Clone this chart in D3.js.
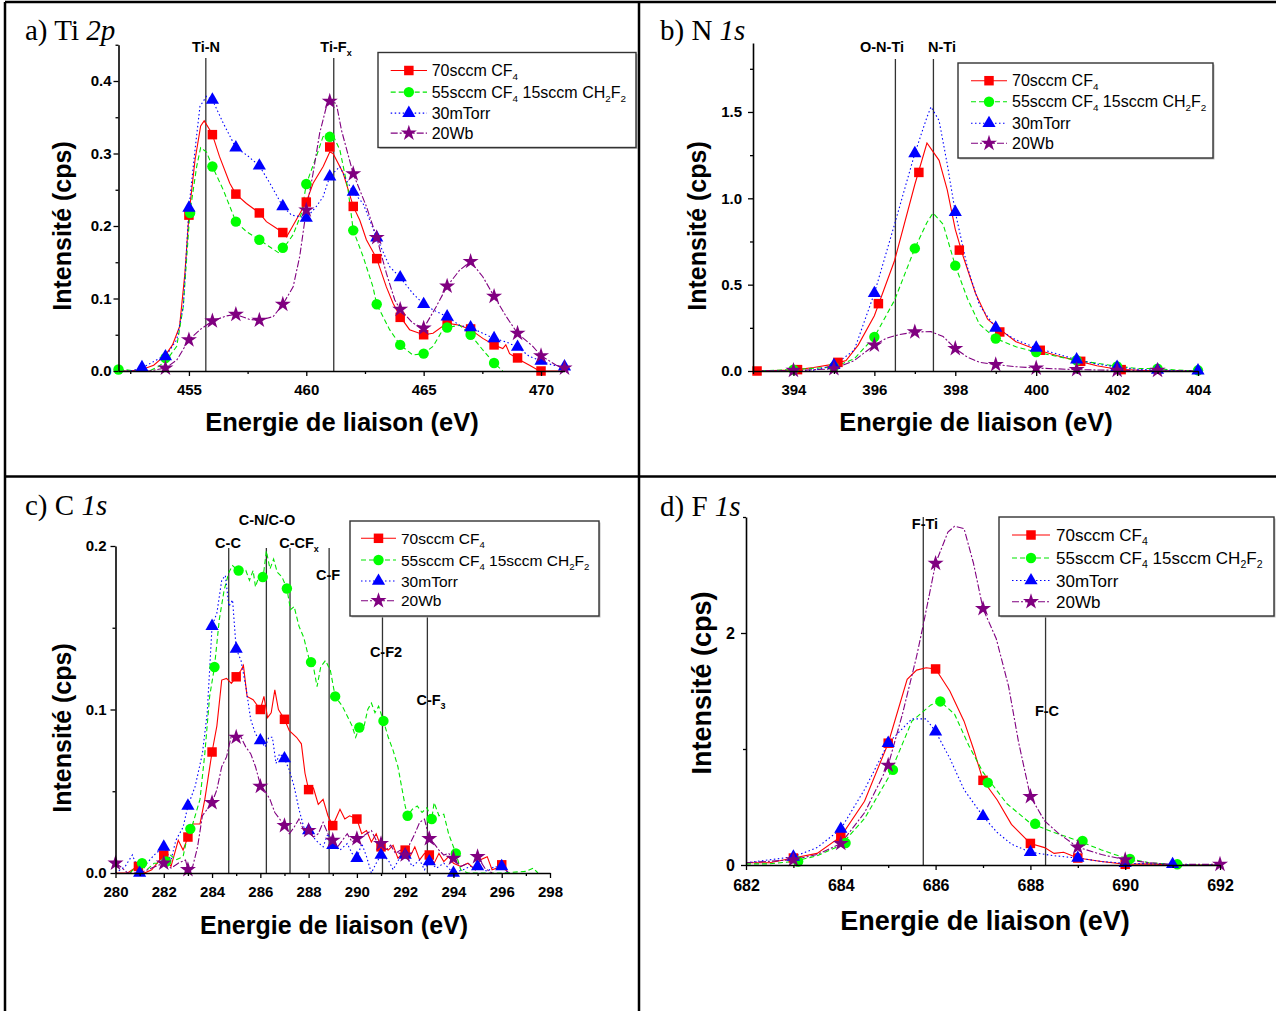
<!DOCTYPE html>
<html><head><meta charset="utf-8">
<script src="https://cdn.jsdelivr.net/npm/d3@7"></script>
<style>
body{margin:0;background:#fff;}
svg{display:block;font-family:"Liberation Sans",Arial,sans-serif;}
</style></head><body>
<svg id="chart" width="1276" height="1011"></svg>
<script>
// ---------------- DATA ----------------
const seriesNames = ["70sccm CF_4", "55sccm CF_4 15sccm CH_2F_2", "30mTorr", "20Wb"];

// a) Ti 2p
const tiRed = [[452,0],[452.5,0],[453,0.002],[453.5,0.008],[454,0.022],[454.3,0.036],[454.6,0.061],[454.83,0.135],[455,0.215],[455.26,0.291],[455.5,0.338],[455.65,0.345],[455.9,0.332],[456,0.326],[456.3,0.296],[456.74,0.259],[457,0.244],[457.45,0.231],[458,0.218],[458.3,0.206],[458.73,0.197],[459,0.191],[459.16,0.185],[459.37,0.197],[459.72,0.217],[460,0.233],[460.29,0.259],[460.72,0.282],[461,0.302],[461.14,0.3],[461.57,0.273],[462,0.227],[462.28,0.208],[462.56,0.181],[463,0.155],[463.41,0.116],[463.7,0.093],[464,0.075],[464.4,0.057],[465,0.05],[465.4,0.052],[466,0.066],[466.53,0.063],[467,0.057],[467.52,0.045],[468,0.036],[468.37,0.031],[468.5,0.036],[468.66,0.024],[469,0.017],[469.51,0.008],[469.94,0],[470.5,0],[471,0]];
const tiRedMk = [[455,0.215],[456,0.326],[457,0.244],[458,0.218],[459,0.191],[460,0.233],[461,0.309],[462,0.227],[463,0.155],[464,0.074],[465,0.05],[466,0.066],[467,0.058],[468,0.036],[469,0.018],[470,0]];
const tiGreen = [[452,0.002],[452.3,0.002],[452.7,0],[453.3,0],[453.7,0.006],[454.05,0.015],[454.48,0.034],[454.76,0.089],[455.04,0.218],[455.33,0.282],[455.5,0.308],[455.75,0.302],[456,0.282],[456.46,0.25],[457,0.206],[457.46,0.192],[458,0.181],[458.45,0.171],[458.87,0.162],[459,0.168],[459.44,0.188],[459.8,0.218],[460,0.258],[460.43,0.296],[460.71,0.323],[461,0.328],[461.14,0.325],[461.43,0.305],[461.78,0.25],[462,0.194],[462.42,0.158],[462.84,0.116],[463,0.092],[463.55,0.057],[464,0.036],[464.54,0.022],[465,0.024],[465.4,0.034],[465.82,0.057],[466,0.06],[466.53,0.063],[467,0.05],[467.52,0.029],[468,0.011],[468.37,0]];
const tiGreenMk = [[452,0.002],[454,0.018],[455.05,0.218],[456,0.282],[457,0.206],[458,0.181],[459,0.17],[460,0.258],[461,0.323],[462,0.194],[463,0.092],[464,0.036],[465,0.024],[466,0.06],[467,0.05],[468,0.011]];
const tiBlue = [[452,0],[452.5,0],[453,0.004],[453.77,0.018],[454,0.02],[454.48,0.043],[454.76,0.089],[455,0.225],[455.26,0.305],[455.47,0.365],[455.75,0.379],[456,0.374],[456.46,0.342],[457,0.308],[457.46,0.298],[458,0.283],[458.45,0.259],[459,0.227],[459.37,0.215],[459.72,0.213],[460,0.211],[460.43,0.227],[460.71,0.24],[461,0.268],[461.43,0.282],[461.71,0.263],[462,0.247],[462.42,0.231],[463,0.184],[463.55,0.144],[464,0.129],[464.54,0.107],[465,0.092],[465.54,0.082],[466,0.075],[466.53,0.063],[467,0.06],[467.52,0.052],[468,0.045],[468.52,0.04],[469,0.033],[469.51,0.02],[470,0.014],[470.5,0.008],[471,0.006]];
const tiBlueMk = [[453,0.005],[454,0.02],[455,0.225],[456,0.374],[457,0.308],[458,0.283],[459,0.227],[460,0.211],[461,0.268],[462,0.247],[463,0.184],[464,0.129],[465,0.092],[466,0.075],[467,0.06],[468,0.045],[469,0.033],[470,0.014],[471,0.006]];
const tiPurple = [[452,0],[453.3,0],[454,0.004],[454.48,0.015],[455,0.043],[455.47,0.057],[456,0.069],[456.6,0.076],[457,0.078],[457.6,0.071],[458,0.07],[458.59,0.075],[459,0.092],[459.44,0.116],[459.72,0.158],[460,0.222],[460.29,0.273],[460.57,0.328],[460.86,0.365],[461,0.372],[461.28,0.369],[461.5,0.332],[462,0.272],[462.56,0.227],[463,0.184],[463.41,0.135],[463.77,0.098],[464,0.085],[464.54,0.066],[465,0.059],[465.54,0.089],[466,0.117],[466.53,0.139],[467,0.151],[467.52,0.13],[468,0.103],[468.52,0.075],[469,0.052],[469.65,0.034],[470,0.021],[470.65,0.008],[471,0.004]];
const tiPurpleMk = [[454,0.004],[455,0.043],[456,0.069],[457,0.078],[458,0.07],[459,0.092],[460,0.222],[461,0.372],[462,0.272],[463,0.184],[464,0.085],[465,0.059],[466,0.117],[467,0.151],[468,0.103],[469,0.052],[470,0.021],[471,0.004]];
const tiXTicks = [455,460,465,470];
const tiXMinor = [452.5,457.5,462.5,467.5];
const tiYTicks = [0,0.1,0.2,0.3,0.4];
const tiYMinor = [0.05,0.15,0.25,0.35,0.45];
const tiRefE = [455.72,461.17];
const tiRefLabels = ["Ti-N","Ti-F_x"];

// b) N 1s
const nRed = [[393,0],[394,0.005],[394.5,0.02],[395,0.04],[395.3,0.06],[395.6,0.15],[396,0.32],[396.5,0.64],[397,1.08],[397.3,1.32],[397.6,1.22],[397.8,1.05],[398,0.82],[398.2,0.66],[398.5,0.45],[398.8,0.3],[399,0.26],[399.5,0.17],[400,0.125],[400.5,0.09],[401,0.06],[401.5,0.03],[402,0.01],[403,0],[404,0]];
const nRedMk = [[393.1,0],[394.1,0.008],[395.1,0.05],[396.1,0.39],[397.1,1.15],[398.1,0.70],[399.1,0.226],[400.1,0.12],[401.1,0.056],[402.1,0.008]];
const nGreen = [[393,0],[394,0.008],[395,0.023],[395.5,0.07],[396,0.197],[396.5,0.41],[397,0.71],[397.3,0.86],[397.45,0.915],[397.7,0.85],[398,0.61],[398.3,0.42],[398.6,0.27],[399,0.188],[399.5,0.14],[400,0.11],[400.5,0.085],[401,0.062],[401.5,0.045],[402,0.027],[402.5,0.015],[403,0.013],[403.5,0.005],[404,0]];
const nGreenMk = [[394,0.008],[395,0.023],[396,0.197],[397,0.71],[398,0.61],[399,0.188],[400,0.11],[401,0.062],[402,0.027],[403,0.013],[404,0.004]];
const nBlue = [[393,0],[394,0],[394.5,0.005],[395,0.033],[395.5,0.12],[396,0.45],[396.5,0.85],[397,1.26],[397.3,1.47],[397.4,1.53],[397.6,1.45],[397.8,1.2],[398,0.92],[398.3,0.6],[398.6,0.38],[399,0.25],[399.5,0.18],[400,0.134],[400.5,0.1],[401,0.066],[401.5,0.04],[402,0.023],[402.5,0.01],[403,0.005],[404,0]];
const nBlueMk = [[395,0.033],[396,0.45],[397,1.26],[398,0.92],[399,0.25],[400,0.134],[401,0.066],[402,0.023],[403,0.006],[404,0.002]];
const nPurple = [[393,0],[394,0.002],[395,0.013],[395.5,0.06],[396,0.15],[396.3,0.19],[396.6,0.21],[397,0.226],[397.4,0.228],[397.7,0.2],[398,0.13],[398.3,0.08],[398.6,0.05],[399,0.037],[399.5,0.025],[400,0.017],[401,0.008],[402,0.004],[403,0.002],[404,0]];
const nPurpleMk = [[394,0.003],[395,0.013],[396,0.15],[397,0.226],[398,0.13],[399,0.037],[400,0.017],[401,0.008],[402,0.004],[403,0.003]];
const nXTicks = [394,396,398,400,402,404];
const nXMinor = [393,395,397,399,401,403];
const nYTicks = [0,0.5,1,1.5];
const nYMinor = [0.25,0.75,1.25,1.75];
const nRefE = [396.52,397.46];
const nRefLabels = ["O-N-Ti","N-Ti"];

// c) C 1s
const cRed = [[280,0],[280.5,0],[280.9,0.004],[281.2,0],[281.5,0.002],[282,0.011],[282.3,0.004],[282.6,0.02],[282.8,0.014],[283,0.022],[283.2,0.03],[283.5,0.03],[283.7,0.045],[284,0.074],[284.2,0.09],[284.4,0.118],[284.6,0.119],[284.8,0.116],[285,0.12],[285.2,0.124],[285.3,0.127],[285.45,0.108],[285.7,0.106],[285.9,0.102],[286,0.1],[286.15,0.108],[286.3,0.095],[286.45,0.098],[286.6,0.112],[286.75,0.1],[287,0.094],[287.2,0.087],[287.5,0.083],[287.7,0.079],[287.85,0.061],[288,0.051],[288.2,0.052],[288.4,0.042],[288.6,0.045],[288.8,0.035],[289,0.029],[289.3,0.039],[289.5,0.033],[289.7,0.035],[290,0.033],[290.2,0.024],[290.4,0.026],[290.6,0.019],[290.8,0.024],[291,0.016],[291.3,0.014],[291.5,0.017],[291.7,0.009],[292,0.014],[292.2,0.01],[292.4,0.016],[292.6,0.008],[292.8,0.012],[293,0.011],[293.2,0.006],[293.4,0.012],[293.6,0.007],[293.8,0.01],[294,0.006],[294.3,0.004],[294.6,0.006],[294.9,0.002],[295.1,0.008],[295.4,0.01],[295.6,0.002],[296,0.004],[296.3,0]];
const cRedMk = [[280.95,0.004],[282,0.011],[283,0.022],[284,0.074],[285,0.12],[286,0.1],[287,0.094],[288,0.051],[289,0.029],[290,0.033],[291,0.016],[292,0.014],[293,0.011],[296,0.005]];
const cGreen = [[280.6,0],[281,0.006],[281.3,0.002],[281.6,0.006],[282,0.006],[282.2,0.012],[282.5,0.008],[282.8,0.01],[283,0.024],[283.2,0.03],[283.5,0.045],[283.7,0.073],[283.9,0.108],[284.1,0.126],[284.3,0.155],[284.5,0.173],[284.7,0.184],[284.85,0.188],[285,0.186],[285.2,0.184],[285.4,0.185],[285.55,0.179],[285.7,0.185],[285.8,0.175],[285.95,0.182],[286.1,0.179],[286.25,0.197],[286.4,0.186],[286.55,0.192],[286.7,0.184],[286.9,0.181],[287.1,0.174],[287.25,0.161],[287.4,0.163],[287.6,0.151],[287.8,0.144],[288,0.132],[288.2,0.126],[288.35,0.114],[288.5,0.126],[288.7,0.13],[288.9,0.124],[289.1,0.108],[289.4,0.102],[289.6,0.096],[289.8,0.09],[289.95,0.083],[290.1,0.089],[290.3,0.09],[290.45,0.1],[290.6,0.104],[290.75,0.098],[290.9,0.102],[291.1,0.093],[291.3,0.083],[291.5,0.075],[291.7,0.065],[291.85,0.053],[292,0.041],[292.1,0.035],[292.3,0.039],[292.5,0.041],[292.7,0.037],[292.9,0.04],[293.1,0.033],[293.2,0.043],[293.4,0.035],[293.6,0.036],[293.8,0.024],[294.1,0.012],[294.3,0.002],[294.6,0],[296,0],[297,0.001],[297.3,0.003],[297.5,0]];
const cGreenMk = [[281.1,0.006],[282.1,0.007],[283.1,0.027],[284.1,0.126],[285.1,0.185],[286.1,0.181],[287.1,0.174],[288.1,0.129],[289.1,0.108],[290.1,0.089],[291.1,0.093],[292.1,0.035],[293.1,0.033],[294.1,0.012]];
const cBlue = [[280,0],[280.4,0.004],[280.7,0.011],[281,0],[281.3,0.006],[281.6,0.011],[282,0.016],[282.3,0.008],[282.5,0.02],[282.8,0.028],[283,0.041],[283.3,0.053],[283.6,0.073],[283.8,0.098],[284,0.151],[284.2,0.159],[284.4,0.179],[284.55,0.182],[284.7,0.163],[284.85,0.167],[285,0.137],[285.2,0.13],[285.4,0.114],[285.6,0.094],[285.8,0.085],[286,0.081],[286.2,0.077],[286.35,0.083],[286.5,0.083],[286.65,0.067],[286.8,0.073],[287,0.07],[287.2,0.063],[287.4,0.053],[287.6,0.039],[287.8,0.028],[288,0.026],[288.3,0.02],[288.6,0.016],[288.8,0.024],[289,0.017],[289.3,0.014],[289.6,0.018],[289.8,0.012],[290,0.009],[290.2,0.018],[290.4,0.01],[290.6,0],[290.8,0.006],[291,0.011],[291.3,0.008],[291.5,0.002],[291.8,0.01],[292,0.011],[292.3,0.004],[292.6,0.008],[292.8,0.002],[293,0.007],[293.3,0.003],[293.6,0.006],[294,0],[294.4,0.002],[294.7,0.004],[295,0.004],[295.4,0.001],[295.7,0.004],[296,0.003],[296.3,0]];
const cBlueMk = [[281,0],[282,0.016],[283,0.041],[284,0.151],[285,0.137],[286,0.081],[287,0.07],[288,0.026],[289,0.017],[290,0.009],[291,0.011],[292,0.011],[293,0.007],[294,0],[295,0.004],[296,0.004]];
const cPurple = [[280,0.006],[280.2,0.004],[280.5,0],[281,0],[281.5,0.003],[282,0.006],[282.3,0.003],[282.6,0.006],[282.9,0.008],[283,0.002],[283.2,0.004],[283.4,0.016],[283.6,0.035],[283.8,0.039],[284,0.043],[284.2,0.051],[284.4,0.065],[284.6,0.071],[284.8,0.084],[285,0.083],[285.2,0.083],[285.4,0.077],[285.6,0.073],[285.8,0.065],[286,0.054],[286.2,0.05],[286.4,0.045],[286.6,0.037],[286.8,0.033],[287,0.029],[287.2,0.024],[287.4,0.028],[287.6,0.033],[287.8,0.026],[288,0.026],[288.2,0.022],[288.4,0.024],[288.6,0.031],[288.8,0.024],[289,0.02],[289.2,0.016],[289.4,0.02],[289.6,0.024],[289.8,0.019],[290,0.021],[290.2,0.022],[290.4,0.024],[290.6,0.026],[290.8,0.02],[291,0.018],[291.2,0.014],[291.4,0.017],[291.6,0.012],[291.8,0.014],[292,0.011],[292.2,0.018],[292.4,0.024],[292.6,0.031],[292.8,0.033],[293,0.021],[293.2,0.018],[293.4,0.014],[293.6,0.011],[293.8,0.012],[294,0.009],[294.3,0.004],[294.6,0.006],[294.9,0.002],[295,0.01],[295.3,0.003],[295.6,0]];
const cPurpleMk = [[280,0.006],[282,0.006],[283,0.002],[284,0.043],[285,0.083],[286,0.053],[287,0.029],[288,0.026],[289,0.02],[290,0.021],[291,0.018],[292,0.011],[293,0.021],[294,0.009],[295,0.01]];
const cXTicks = [280,282,284,286,288,290,292,294,296,298];
const cXMinor = [281,283,285,287,289,291,293,295,297];
const cYTicks = [0,0.1,0.2];
const cYMinor = [0.05,0.15];
const cRefE = [284.69,286.25,287.23,288.85,291.06,292.92];
const cRefLabels = ["C-C","C-N/C-O","C-CF_x","C-F","C-F2","C-F_3"];

// d) F 1s
const fRed = [[682,0.02],[682.5,0.02],[683,0.06],[683.5,0.1],[684,0.245],[684.5,0.55],[685,1.05],[685.4,1.6],[685.6,1.68],[685.8,1.7],[686,1.69],[686.3,1.5],[686.6,1.24],[686.8,1.0],[687,0.73],[687.3,0.56],[687.6,0.35],[688,0.186],[688.3,0.15],[688.5,0.1],[688.7,0.11],[689,0.06],[689.5,0.03],[690,0.006],[690.5,0.01],[691,0],[692,0]];
const fRedMk = [[683,0.06],[684,0.245],[685,1.05],[686,1.69],[687,0.73],[688,0.186],[689,0.06],[690,0.006]];
const fGreen = [[682,0.01],[682.5,0.01],[683,0.03],[683.5,0.08],[684,0.17],[684.5,0.4],[685,0.75],[685.5,1.24],[685.9,1.38],[686.1,1.41],[686.4,1.3],[686.7,1.03],[687,0.8],[687.5,0.53],[688,0.36],[688.5,0.28],[689,0.21],[689.5,0.13],[690,0.06],[690.5,0.02],[691,0.006],[691.5,0],[692,0]];
const fGreenMk = [[683.1,0.03],[684.1,0.19],[685.1,0.82],[686.1,1.41],[687.1,0.71],[688.1,0.355],[689.1,0.207],[690.1,0.053],[691.1,0.006]];
const fBlue = [[682,0.02],[683,0.07],[683.5,0.15],[684,0.31],[684.5,0.65],[685,1.05],[685.5,1.26],[685.8,1.26],[686,1.15],[686.3,0.92],[686.6,0.65],[687,0.42],[687.3,0.28],[687.6,0.18],[688,0.11],[688.5,0.08],[689,0.06],[689.5,0.03],[690,0.015],[691,0.006],[692,0]];
const fBlueMk = [[683,0.07],[684,0.31],[685,1.05],[686,1.15],[687,0.42],[688,0.11],[689,0.06],[690,0.015],[691,0.006]];
const fPurple = [[682,0.02],[683,0.045],[683.5,0.09],[684,0.185],[684.5,0.45],[685,0.86],[685.3,1.3],[685.6,1.8],[685.74,2.07],[686,2.6],[686.26,2.87],[686.4,2.92],[686.6,2.9],[686.8,2.6],[687,2.21],[687.28,1.95],[687.54,1.54],[687.75,1.06],[688,0.59],[688.3,0.38],[688.6,0.27],[689,0.154],[689.5,0.09],[690,0.045],[690.5,0.02],[691,0.005],[692,0.006]];
const fPurpleMk = [[683,0.045],[684,0.185],[685,0.86],[686,2.6],[687,2.21],[688,0.59],[689,0.154],[690,0.045],[692,0.006]];
const fXTicks = [682,684,686,688,690,692];
const fXMinor = [683,685,687,689,691];
const fYTicks = [0,2];
const fYMinor = [1,3];
const fRefE = [685.74,688.32];
const fRefLabels = ["F-Ti","F-C"];

// ---------------- STYLES / LAYOUT ----------------
const styles = [
  {color:"#ff0000", fill:"#ff0000", dash:null, sym:d3.symbolSquare, size:90},
  {color:"#00e600", fill:"#00ff00", dash:"5,3", sym:d3.symbolCircle, size:85},
  {color:"#0000ff", fill:"#0000ff", dash:"1.5,2.5", sym:d3.symbolTriangle, size:75},
  {color:"#800080", fill:"#800080", dash:"7,2,2,2", sym:d3.symbolStar, size:80}
];

const panels = [
  {title:["a) Ti ","2p"], titlePos:[25,40],
   xDomain:[452,471], xRange:[118.5,564.5], yDomain:[0,0.45], yRange:[371,44.75],
   xTicks:tiXTicks, xMinor:tiXMinor, yTicks:tiYTicks, yMinor:tiYMinor, yFmt:d3.format(".1f"),
   series:[tiRed,tiGreen,tiBlue,tiPurple], marks:[tiRedMk,tiGreenMk,tiBlueMk,tiPurpleMk],
   refE:tiRefE, refLabels:tiRefLabels, refTop:[58,58], refLabelPos:[[206,52],[336,52]],
   legend:{x:378,y:52.5,w:258,h:95,rows:[18,39.6,60.6,80.6],l0:12.7,l1:49,tx:53.7,fs:16},
   xTitle:[342,431,25.5], yTitle:[71,226,25], tickFs:15, xPad:8, yPad:2},
  {title:["b) N ","1s"], titlePos:[660,40],
   xDomain:[393,404], xRange:[753,1198], yDomain:[0,1.9], yRange:[371,42.9],
   xTicks:nXTicks, xMinor:nXMinor, yTicks:nYTicks, yMinor:nYMinor, yFmt:d3.format(".1f"),
   series:[nRed,nGreen,nBlue,nPurple], marks:[nRedMk,nGreenMk,nBlueMk,nPurpleMk],
   refE:nRefE, refLabels:nRefLabels, refTop:[59,59], refLabelPos:[[882,52],[942,52]],
   legend:{x:958,y:63,w:255,h:95,rows:[17.7,38.7,60.3,80.3],l0:13,l1:49,tx:54,fs:16},
   xTitle:[976,431,25.5], yTitle:[706,226,25], tickFs:15, xPad:8, yPad:6},
  {title:["c) C ","1s"], titlePos:[25,515],
   xDomain:[280,298], xRange:[115.5,550], yDomain:[0,0.2], yRange:[873,546],
   xTicks:cXTicks, xMinor:cXMinor, yTicks:cYTicks, yMinor:cYMinor, yFmt:d3.format(".1f"),
   series:[cRed,cGreen,cBlue,cPurple], marks:[cRedMk,cGreenMk,cBlueMk,cPurpleMk],
   refE:cRefE, refLabels:cRefLabels, refTop:[548,548,548,548,548,548],
   refLabelPos:[[228,548],[267,525],[299,548],[328,580],[386,657],[431,705]],
   legend:{x:350,y:521,w:249,h:95,rows:[17.3,39,60,79.7],l0:11,l1:46,tx:51,fs:15.5},
   xTitle:[334,934,25], yTitle:[71,728,25], tickFs:15, xPad:8, yPad:4},
  {title:["d) F ","1s"], titlePos:[660,516],
   xDomain:[682,692], xRange:[746,1220], yDomain:[0,3], yRange:[865,517],
   xTicks:fXTicks, xMinor:fXMinor, yTicks:fYTicks, yMinor:fYMinor, yFmt:d3.format("d"),
   series:[fRed,fGreen,fBlue,fPurple], marks:[fRedMk,fGreenMk,fBlueMk,fPurpleMk],
   refE:fRefE, refLabels:fRefLabels, refTop:[517,520], refLabelPos:[[925,529],[1047,716]],
   legend:{x:999,y:517,w:275,h:99,rows:[18,41,63.5,84.7],l0:13,l1:51,tx:57,fs:17},
   xTitle:[985,930,27], yTitle:[711,683,27], tickFs:16, xPad:10, yPad:6}
];

// ---------------- DRAW ----------------
const svg = d3.select("#chart");
svg.append("rect").attr("width",1276).attr("height",1011).attr("fill","#fff");

function richText(sel, str, subSize, dy) {
  const parts = str.split(/(_.)/);
  let cur = 0;
  parts.forEach(p => {
    if (!p) return;
    const isSub = p[0] === "_";
    const target = isSub ? dy : 0;
    const t = sel.append("tspan").attr("dy", target - cur).text(isSub ? p.slice(1) : p);
    if (isSub) t.attr("font-size", subSize);
    cur = target;
  });
}

panels.forEach(P => {
  const x = d3.scaleLinear().domain(P.xDomain).range(P.xRange);
  const y = d3.scaleLinear().domain(P.yDomain).range(P.yRange);
  const g = svg.append("g");

  P.refE.forEach((e, i) => {
    g.append("line").attr("x1", x(e)).attr("x2", x(e))
      .attr("y1", P.refTop[i]).attr("y2", y(0))
      .attr("stroke", "#333").attr("stroke-width", 1.3);
  });

  const line = d3.line().x(d => x(d[0])).y(d => y(d[1]));
  P.series.forEach((s, i) => {
    const st = styles[i];
    g.append("path").datum(s).attr("d", line).attr("fill", "none")
      .attr("stroke", st.color).attr("stroke-width", 1.1)
      .attr("stroke-dasharray", st.dash);
  });
  P.marks.forEach((m, i) => {
    const st = styles[i];
    g.selectAll(null).data(m).enter().append("path")
      .attr("d", d3.symbol().type(st.sym).size(st.size))
      .attr("transform", d => `translate(${x(d[0])},${y(d[1])})`)
      .attr("fill", st.fill);
  });

  const axG = g.append("g").attr("font-weight", "bold");
  const xa = axG.append("g").attr("transform", `translate(0,${P.yRange[0]})`)
    .call(d3.axisBottom(x).tickValues(P.xTicks).tickFormat(d3.format("d"))
      .tickSize(5).tickSizeOuter(0).tickPadding(P.xPad));
  xa.attr("font-size", P.tickFs).attr("font-family", null);
  axG.append("g").attr("transform", `translate(0,${P.yRange[0]})`)
    .call(d3.axisBottom(x).tickValues(P.xMinor).tickFormat("").tickSize(3).tickSizeOuter(0))
    .call(a => a.select(".domain").remove());
  const ya = axG.append("g").attr("transform", `translate(${P.xRange[0]},0)`)
    .call(d3.axisLeft(y).tickValues(P.yTicks).tickFormat(P.yFmt)
      .tickSize(5).tickSizeOuter(0).tickPadding(P.yPad));
  ya.attr("font-size", P.tickFs).attr("font-family", null);
  axG.append("g").attr("transform", `translate(${P.xRange[0]},0)`)
    .call(d3.axisLeft(y).tickValues(P.yMinor).tickFormat("").tickSize(3).tickSizeOuter(0))
    .call(a => a.select(".domain").remove());
  axG.selectAll(".domain").attr("stroke-width", 1.6);
  axG.selectAll(".tick line").attr("stroke-width", 1.3);

  P.refLabels.forEach((lab, i) => {
    const t = g.append("text").attr("x", P.refLabelPos[i][0]).attr("y", P.refLabelPos[i][1])
      .attr("text-anchor", "middle").attr("font-weight", "bold").attr("font-size", 14.5);
    richText(t, lab, 9, 4);
  });

  const L = P.legend;
  const lg = g.append("g").attr("transform", `translate(${L.x},${L.y})`);
  lg.append("rect").attr("x", 1.5).attr("y", 1.5).attr("width", L.w).attr("height", L.h)
    .attr("fill", "#bbb");
  lg.append("rect").attr("width", L.w).attr("height", L.h).attr("fill", "#fff")
    .attr("stroke", "#333").attr("stroke-width", 1.4);
  seriesNames.forEach((nm, i) => {
    const st = styles[i], ry = L.rows[i];
    lg.append("line").attr("x1", L.l0).attr("x2", L.l1).attr("y1", ry).attr("y2", ry)
      .attr("stroke", st.color).attr("stroke-width", 1.1).attr("stroke-dasharray", st.dash);
    lg.append("path").attr("d", d3.symbol().type(st.sym).size(st.size)())
      .attr("transform", `translate(${(L.l0 + L.l1) / 2},${ry})`).attr("fill", st.fill);
    const t = lg.append("text").attr("x", L.tx).attr("y", ry + L.fs * 0.36)
      .attr("font-size", L.fs).attr("fill", "#000");
    richText(t, nm, L.fs * 0.62, 4);
  });

  g.append("text").attr("x", P.xTitle[0]).attr("y", P.xTitle[1]).attr("text-anchor", "middle")
    .attr("font-weight", "bold").attr("font-size", P.xTitle[2]).text("Energie de liaison (eV)");
  g.append("text").attr("transform", `translate(${P.yTitle[0]},${P.yTitle[1]}) rotate(-90)`)
    .attr("text-anchor", "middle").attr("font-weight", "bold").attr("font-size", P.yTitle[2])
    .text("Intensité (cps)");

  const tt = g.append("text").attr("x", P.titlePos[0]).attr("y", P.titlePos[1])
    .attr("font-family", '"Liberation Serif","Times New Roman",serif').attr("font-size", 29);
  tt.append("tspan").text(P.title[0]);
  tt.append("tspan").attr("font-style", "italic").text(P.title[1]);
});

const frame = [[5,2,1276,2],[5,2,5,1011],[639,2,639,1011],[5,476.5,1276,476.5]];
svg.selectAll(null).data(frame).enter().append("line")
  .attr("x1", d => d[0]).attr("y1", d => d[1]).attr("x2", d => d[2]).attr("y2", d => d[3])
  .attr("stroke", "#000").attr("stroke-width", 2.5);
</script>
</body></html>
